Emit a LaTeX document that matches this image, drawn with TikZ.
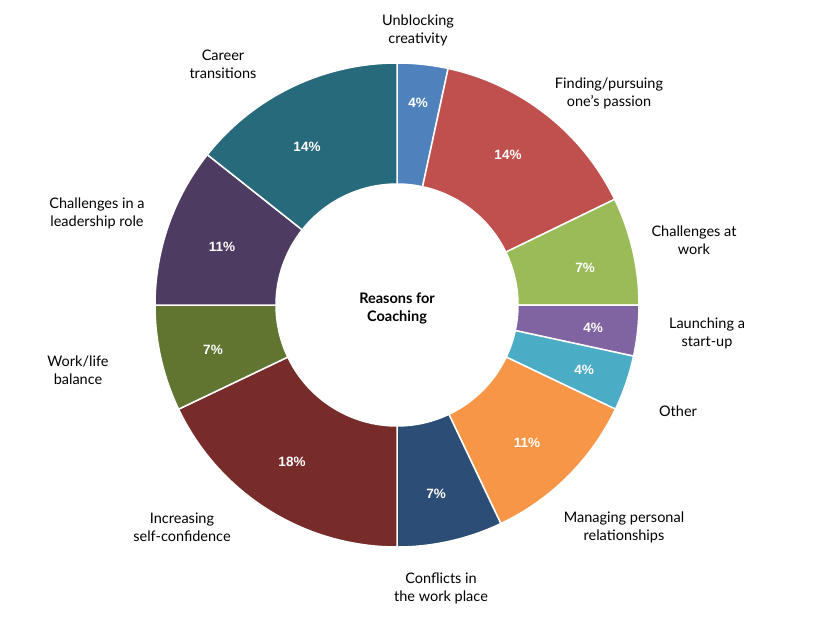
\documentclass[tikz,border=0pt]{standalone}
\usepackage{fontspec}
\setmainfont{Lato}
\newfontfamily\pctfont{Liberation Sans}
\begin{document}
\begin{tikzpicture}[x=1pt,y=-1pt,
  lbl/.style={align=center,font=\fontsize{14.5}{18}\selectfont,text=black},
  pct/.style={font=\pctfont\bfseries\fontsize{13.5}{16}\selectfont,text=white}]
\useasboundingbox (0,0) rectangle (818,642);
\definecolor{cA}{HTML}{4F81BD}\definecolor{cB}{HTML}{C0504D}\definecolor{cC}{HTML}{9BBB59}
\definecolor{cD}{HTML}{8064A2}\definecolor{cE}{HTML}{4BACC6}\definecolor{cF}{HTML}{F79646}
\definecolor{cG}{HTML}{2C4D75}\definecolor{cH}{HTML}{772C2A}\definecolor{cI}{HTML}{5F7530}
\definecolor{cJ}{HTML}{4D3B62}\definecolor{cK}{HTML}{276A7C}
\begin{scope}[shift={(397,305)},yscale=-1]
\foreach \a/\b/\c in {90/77.8/cA,77.8/25.9/cB,25.9/0/cC,0/-12.2/cD,-12.2/-25.5/cE,-25.5/-64.6/cF,-64.6/-90/cG,-90/-154.5/cH,-154.5/-180/cI,-180/-218.4/cJ,-218.4/-270/cK}
  \filldraw[fill=\c,draw=white,line width=1.5pt] (\a:242) arc(\a:\b:242) -- (\b:121) arc(\b:\a:121) -- cycle;
\end{scope}
\node[lbl,font=\bfseries\fontsize{14.5}{18}\selectfont] (ctr) at (397,308) {Reasons for\\Coaching};
\node[pct] (p1) at (418,103) {4\%};
\node[pct] (p2) at (508,155) {14\%};
\node[pct] (p3) at (585,268) {7\%};
\node[pct] (p4) at (593,328) {4\%};
\node[pct] (p5) at (584,370) {4\%};
\node[pct] (p6) at (527,443) {11\%};
\node[pct] (p7) at (436,494) {7\%};
\node[pct] (p8) at (292,462) {18\%};
\node[pct] (p9) at (213,350) {7\%};
\node[pct] (p10) at (222,247) {11\%};
\node[pct] (p11) at (307,147) {14\%};
\node[lbl] (l1) at (418,30) {Unblocking\\creativity};
\node[lbl] (l2) at (609,93) {Finding/pursuing\\one’s passion};
\node[lbl] (l3) at (694,240) {Challenges at\\work};
\node[lbl] (l4) at (707,333) {Launching a\\start-up};
\node[lbl] (l5) at (678,411) {Other};
\node[lbl] (l6) at (624,527) {Managing personal\\relationships};
\node[lbl] (l7) at (441,588) {Conflicts in\\the work place};
\node[lbl] (l8) at (182,527) {Increasing\\self-confidence};
\node[lbl] (l9) at (78,370) {Work/life\\balance};
\node[lbl] (l10) at (97,213) {Challenges in a\\leadership role};
\node[lbl] (l11) at (223,64) {Career\\transitions};
\end{tikzpicture}
\end{document}
